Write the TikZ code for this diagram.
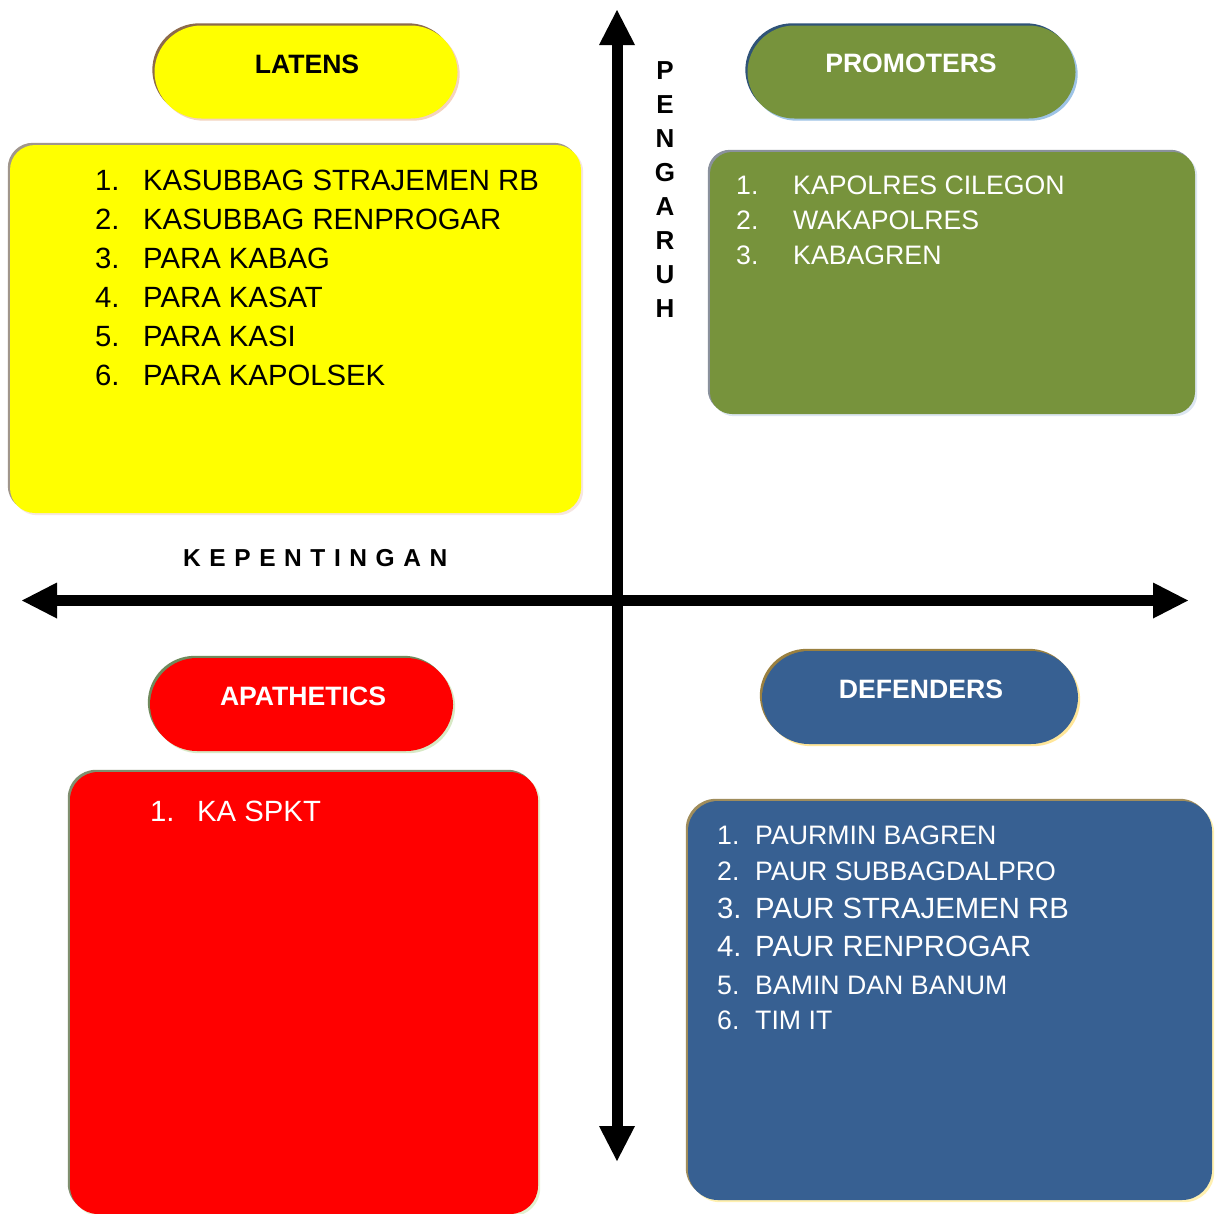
\documentclass[tikz,border=0pt]{standalone}
\usepackage{fontspec}
\setmainfont{Liberation Sans}
\usetikzlibrary{arrows.meta,shadows}

% fills
\definecolor{cYellow}{HTML}{FFFF00}
\definecolor{cGreen}{HTML}{77933C}
\definecolor{cRed}{HTML}{FF0000}
\definecolor{cBlue}{HTML}{376092}
% bevel edges (dark upper-left, light lower-right)
\definecolor{latD}{HTML}{8C6A4C}
\definecolor{latL}{HTML}{F4D3BE}
\definecolor{latbD}{HTML}{A0968C}
\definecolor{latbL}{HTML}{F6E6E0}
\definecolor{proD}{HTML}{2F5378}
\definecolor{proL}{HTML}{9DC3E6}
\definecolor{probD}{HTML}{8A919C}
\definecolor{probL}{HTML}{DCE6F2}
\definecolor{apaD}{HTML}{6F8A5C}
\definecolor{apaL}{HTML}{D7E9C5}
\definecolor{apabD}{HTML}{7F8F6F}
\definecolor{apabL}{HTML}{E2F0D0}
\definecolor{defD}{HTML}{9A8040}
\definecolor{defL}{HTML}{FFE699}
\definecolor{defbD}{HTML}{A08D5C}
\definecolor{defbL}{HTML}{FFF0B0}

\begin{document}
\begin{tikzpicture}[x=1pt,y=-1pt,
  bevel/.style 2 args={
    general shadow={fill=#1,shadow xshift=-2.2pt,shadow yshift=2.2pt},
    general shadow={fill=#2,shadow xshift=2.2pt,shadow yshift=-2.2pt}},
  pill/.style={draw=none,rounded corners=47pt,minimum height=93pt,inner sep=0pt},
  panel/.style={draw=none,inner sep=0pt},
  head/.style={inner sep=0pt,font=\bfseries\fontsize{26.6}{30}\selectfont},
  entry/.style={anchor=base west,inner sep=0pt},
  axis/.style={line width=11pt,{Triangle[width=36pt,length=35pt,line width=0pt]}-{Triangle[width=36pt,length=35pt,line width=0pt]}}
]
\useasboundingbox (0,0) rectangle (1221,1213);
\fill[white] (0,0) rectangle (1221,1213);

% ---------- upper left: LATENS ----------
\node[pill,fill=cYellow,bevel={latD}{latL},minimum width=303pt] (latens) at (306,72) {};
\node[head,text=black] (latens-t) at (307,64) {LATENS};
\node[panel,fill=cYellow,bevel={latbD}{latbL},rounded corners=25pt,
      minimum width=571pt,minimum height=368pt] (latens-box) at (295.5,329) {};
\foreach \i/\y/\t in {1/190.5/KASUBBAG STRAJEMEN RB,2/229.5/KASUBBAG RENPROGAR,
                      3/268.5/PARA KABAG,4/307.5/PARA KASAT,5/346.5/PARA KASI,6/385.5/PARA KAPOLSEK}{
  \node[entry,font=\fontsize{29.3}{34}\selectfont] (lat-n\i) at (95,\y) {\i.};
  \node[entry,font=\fontsize{29.3}{34}\selectfont] (lat-t\i) at (143,\y) {\t};
}

% ---------- upper right: PROMOTERS ----------
\node[pill,fill=cGreen,bevel={proD}{proL},minimum width=328pt] (promoters) at (911.5,72) {};
\node[head,text=white] (promoters-t) at (911,63) {PROMOTERS};
\node[panel,fill=cGreen,bevel={probD}{probL},rounded corners=22pt,
      minimum width=485pt,minimum height=262pt] (promoters-box) at (952.5,283) {};
\foreach \i/\y/\t in {1/194.5/KAPOLRES CILEGON,2/229.5/WAKAPOLRES,3/264.5/KABAGREN}{
  \node[entry,text=white,font=\fontsize{26.7}{30}\selectfont] (pro-n\i) at (736,\y) {\i.};
  \node[entry,text=white,font=\fontsize{26.7}{30}\selectfont] (pro-t\i) at (793,\y) {\t};
}

% ---------- lower left: APATHETICS ----------
\node[pill,fill=cRed,bevel={apaD}{apaL},minimum width=303pt] (apathetics) at (301.5,704.5) {};
\node[head,text=white] (apathetics-t) at (303,696) {APATHETICS};
\node[panel,fill=cRed,bevel={apabD}{apabL},rounded corners=28pt,
      minimum width=468pt,minimum height=442pt] (apathetics-box) at (304,993) {};
\node[entry,text=white,font=\fontsize{29.3}{34}\selectfont] (apa-n1) at (150,821) {1.};
\node[entry,text=white,font=\fontsize{29.3}{34}\selectfont] (apa-t1) at (197,821) {KA SPKT};

% ---------- lower right: DEFENDERS ----------
\node[pill,fill=cBlue,bevel={defD}{defL},minimum width=316pt] (defenders) at (920,697.5) {};
\node[head,text=white] (defenders-t) at (921,689) {DEFENDERS};
\node[panel,fill=cBlue,bevel={defbD}{defbL},rounded corners=30pt,
      minimum width=524pt,minimum height=399pt] (defenders-box) at (950,1000.5) {};
\foreach \i/\y/\s/\t in {1/844.5/26.7/PAURMIN BAGREN,2/880.5/26.7/PAUR SUBBAGDALPRO,
                         3/918.4/29.3/PAUR STRAJEMEN RB,4/956.4/29.3/PAUR RENPROGAR,
                         5/994.5/26.7/BAMIN DAN BANUM,6/1029.5/26.7/TIM IT}{
  \node[entry,text=white,font=\fontsize{\s}{30}\selectfont] (def-n\i) at (717,\y) {\i.};
  \node[entry,text=white,font=\fontsize{\s}{30}\selectfont] (def-t\i) at (755,\y) {\t};
}

% ---------- axes ----------
\coordinate (ax-top) at (617,10);
\coordinate (ax-bot) at (617,1161);
\coordinate (ax-left) at (22,600.5);
\coordinate (ax-right) at (1188,600.5);
\draw[axis] (ax-bot) -- (ax-top);
\draw[axis] (ax-left) -- (ax-right);

\node[inner sep=0pt,align=center,font=\bfseries\fontsize{26}{34}\selectfont] (pengaruh)
  at (665,190) {P\\E\\N\\G\\A\\R\\U\\H};
\node[anchor=west,inner sep=0pt,font=\bfseries\fontsize{24.5}{28}\selectfont\addfontfeature{LetterSpace=35}] (kepentingan)
  at (183,558) {KEPENTINGAN};
\end{tikzpicture}
\end{document}
